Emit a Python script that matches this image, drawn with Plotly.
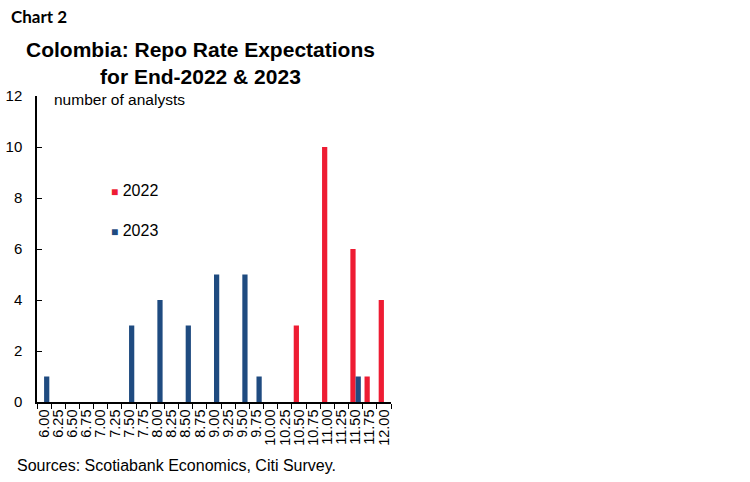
import plotly.graph_objects as go

categories = ["6.00", "6.25", "6.50", "6.75", "7.00", "7.25", "7.50", "7.75", "8.00", "8.25",
              "8.50", "8.75", "9.00", "9.25", "9.50", "9.75", "10.00", "10.25", "10.50", "10.75",
              "11.00", "11.25", "11.50", "11.75", "12.00"]
values_2022 = [0, 0, 0, 0, 0, 0, 0, 0, 0, 0, 0, 0, 0, 0, 0, 0, 0, 0, 3, 0, 10, 0, 6, 1, 4]
values_2023 = [1, 0, 0, 0, 0, 0, 3, 0, 4, 0, 3, 0, 5, 0, 5, 1, 0, 0, 0, 0, 0, 0, 1, 0, 0]
y_ticks = [0, 2, 4, 6, 8, 10, 12]

RED = "#EE1C33"
BLUE = "#1F4B80"
FONT = "Liberation Sans, Arial, sans-serif"

W, H = 750, 482
PL, PR, PT, PB = 37, 391, 96, 402  # plot area in screen px
PW, PH = PR - PL, PB - PT


def px(x):
    return (x - PL) / PW


def py(y):
    return (PB - y) / PH


fig = go.Figure()
fig.add_trace(go.Bar(x=categories, y=values_2022, name="2022", marker_color=RED,
                     marker_line_width=0, showlegend=False))
fig.add_trace(go.Bar(x=categories, y=values_2023, name="2023", marker_color=BLUE,
                     marker_line_width=0, showlegend=False))

fig.update_layout(
    width=W, height=H,
    margin=dict(l=PL, r=W - PR, t=PT, b=H - PB, pad=0),
    paper_bgcolor="white", plot_bgcolor="white",
    barmode="group", bargap=0.26, bargroupgap=0,
    font=dict(family=FONT, size=14, color="#000000"),
)
fig.update_xaxes(
    type="category", categoryorder="array", categoryarray=categories,
    tickmode="array", tickvals=categories, ticktext=categories,
    showline=True, linecolor="#000000", linewidth=1.5,
    ticks="outside", ticklen=5, tickcolor="#000000", tickwidth=1.2,
    tickson="boundaries", tickangle=-90, showgrid=False, automargin=False,
    tickfont=dict(family=FONT, size=14.5), zeroline=False,
)
fig.update_yaxes(
    range=[0, 12], tickmode="array", tickvals=y_ticks, showline=True,
    linecolor="#000000", linewidth=1.5,
    ticks="inside", ticklen=5, tickcolor="#000000", tickwidth=1.2,
    showgrid=False, zeroline=False, ticklabelstandoff=10, automargin=False,
    tickfont=dict(family=FONT, size=15),
)

fig.add_annotation(xref="paper", yref="paper", x=px(9), y=py(16),
                   text="<b>Chart 2</b>", showarrow=False, xanchor="left", yanchor="middle",
                   font=dict(family="Lato, Open Sans, sans-serif", size=17, color="#000000"))
fig.add_annotation(xref="paper", yref="paper", x=px(200), y=py(63),
                   text="<b>Colombia: Repo Rate Expectations<br>for End-2022 & 2023</b>",
                   showarrow=False, xanchor="center", yanchor="middle",
                   font=dict(family=FONT, size=21, color="#000000"))
fig.add_annotation(xref="paper", yref="paper", x=px(52), y=py(100),
                   text="number of analysts", showarrow=False, xanchor="left", yanchor="middle",
                   font=dict(family=FONT, size=15.5, color="#000000"))
fig.add_annotation(xref="paper", yref="paper", x=px(109), y=py(190),
                   text="<span style='color:%s;font-size:12px'>■</span> 2022" % RED,
                   showarrow=False, xanchor="left", yanchor="middle",
                   font=dict(family=FONT, size=16, color="#000000"))
fig.add_annotation(xref="paper", yref="paper", x=px(109), y=py(230),
                   text="<span style='color:%s;font-size:12px'>■</span> 2023" % BLUE,
                   showarrow=False, xanchor="left", yanchor="middle",
                   font=dict(family=FONT, size=16, color="#000000"))
fig.add_annotation(xref="paper", yref="paper", x=px(15), y=py(465),
                   text="Sources: Scotiabank Economics, Citi Survey.", showarrow=False,
                   xanchor="left", yanchor="middle",
                   font=dict(family=FONT, size=16, color="#000000"))

fig.write_html("out.html", config={"displayModeBar": False},
               post_script="document.body.style.margin='0';")
